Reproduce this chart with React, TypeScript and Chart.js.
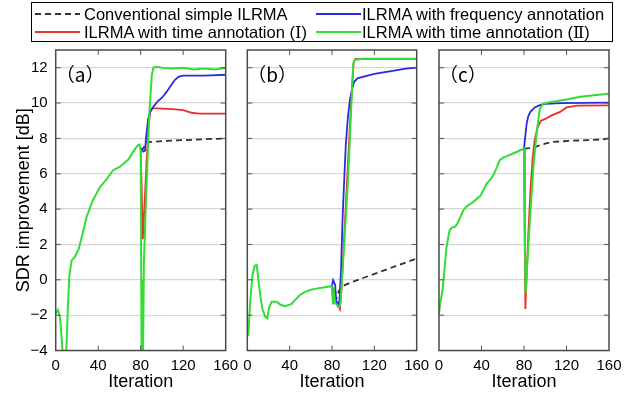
import React, { useEffect, useRef } from 'react';
import { Chart, registerables } from 'chart.js';

Chart.register(...registerables);

type P = [number, number][];

// ---------- data ----------
const ITER_TICKS = [0, 40, 80, 120, 160];
const SDR_TICKS = [-4, -2, 0, 2, 4, 6, 8, 10, 12];
const PANEL_LABELS = ['（a）', '（b）', '（c）'];
const SERIES_NAMES = [
  'Conventional simple ILRMA',
  'ILRMA with time annotation (Ⅰ)',
  'ILRMA with frequency annotation',
  'ILRMA with time annotation (Ⅱ)',
];

// panel (a)
const A_CONV: P = [[80, 7.3], [82, 7.4], [84, 7.6], [86, 7.8], [90, 7.8], [100, 7.85], [120, 7.9], [140, 7.95], [160, 8.0]];
const A_TIME1: P = [[80, 7.3], [81, 5], [82, 2.3], [83, 3.5], [85, 6], [87, 8.5], [89, 9.5], [91, 9.7], [95, 9.7], [110, 9.65], [120, 9.6], [128, 9.45], [135, 9.4], [160, 9.4]];
const A_FREQ: P = [[80, 7.3], [81, 7.4], [82.5, 7.25], [84, 7.3], [85, 8.0], [87, 9.1], [89, 9.5], [92, 9.8], [96, 10.1], [100, 10.3], [104, 10.6], [108, 10.95], [112, 11.3], [116, 11.5], [120, 11.55], [140, 11.55], [160, 11.6]];
const A_TIME2: P = [[0, -1.9], [2, -1.7], [4, -2.1], [5.5, -3.2], [7, -4.6], [9, -4.6], [10, -4], [11.5, -1.5], [12.8, 0.2], [15, 1.1], [18, 1.3], [21.4, 1.7], [24.5, 2.4], [29, 3.55], [35, 4.5], [41.7, 5.25], [48, 5.7], [54, 6.2], [60.5, 6.4], [68.4, 6.8], [73, 7.25], [77, 7.6], [78.7, 7.65], [80, 7.3], [80.5, 0], [81, -6], [82, -6], [83, 1.0], [85, 4.5], [88, 9.3], [90.5, 11.6], [92, 12.0], [95, 12.05], [100, 12.0], [110, 11.95], [120, 12.0], [130, 11.9], [140, 11.95], [150, 11.9], [160, 12.0]];

// panel (b)
const B_CONV: P = [[80, -0.36], [82, -0.8], [84, -1.1], [86, -0.7], [88, -0.45], [92, -0.3], [100, -0.1], [120, 0.33], [140, 0.77], [160, 1.2]];
const B_TIME1: P = [[80, -0.36], [82, -1.0], [85, -1.3], [87.5, -1.65], [89, -0.5], [92, 3], [95, 6.5], [98, 10], [100.5, 12.3], [102, 12.5], [160, 12.5]];
const B_FREQ: P = [[80, -0.36], [81, -0.02], [82, -0.15], [83, -0.3], [84, -1.2], [85.5, -1.45], [87, -1.2], [88.5, 0.5], [90, 3.5], [91.5, 5.6], [93, 7.6], [95, 9.2], [97, 10.2], [99, 10.8], [101, 11.2], [104, 11.4], [110, 11.5], [120, 11.65], [130, 11.75], [140, 11.85], [150, 11.95], [160, 12.0]];
const B_TIME2: P = [[0, -3.2], [1, -3.1], [3, -1], [5, 0.3], [7, 0.8], [8.9, 0.83], [10.5, 0], [12.5, -1], [14.5, -1.7], [17, -2.1], [18.9, -2.18], [20.5, -1.6], [23, -1.24], [27.8, -1.24], [31, -1.4], [35.6, -1.5], [41.9, -1.36], [45, -1.15], [49.8, -0.86], [54, -0.7], [59.2, -0.58], [65, -0.5], [71.8, -0.43], [79.7, -0.36], [81, -1.4], [82, -0.8], [83, -1.3], [85, -1.45], [87, -1.5], [88, -1.3], [91, 1.5], [95, 5.5], [98, 9.5], [100, 12.2], [101.5, 12.45], [110, 12.5], [160, 12.5]];

// panel (c)
const C_CONV: P = [[80, 7.42], [85, 7.45], [92, 7.55], [100, 7.7], [107, 7.8], [115, 7.83], [123, 7.86], [140, 7.9], [155, 7.95], [160, 8.0]];
const C_TIME1: P = [[80, 7.42], [80.7, 2], [81.3, -1.65], [82, -0.5], [84, 2.5], [86, 5.0], [88, 6.8], [90, 7.9], [93, 8.65], [96, 9.0], [100, 9.1], [106, 9.3], [114, 9.5], [120, 9.75], [130, 9.85], [160, 9.87]];
const C_FREQ: P = [[80, 7.42], [81, 8.0], [82.5, 8.84], [84, 9.25], [86, 9.5], [90, 9.75], [95, 9.88], [100, 9.95], [115, 10.0], [160, 10.02]];
const C_TIME2: P = [[0, -1.9], [1.5, -1.2], [3.4, -0.58], [5, 0.5], [7, 1.8], [8.8, 2.43], [10, 2.8], [12, 2.95], [15, 3.0], [17, 3.15], [20, 3.55], [23, 3.95], [27, 4.2], [31, 4.35], [35, 4.55], [39, 4.75], [42, 5.1], [45, 5.45], [48, 5.65], [51, 5.9], [54, 6.3], [57, 6.75], [60, 6.9], [64, 7.0], [68, 7.1], [73, 7.23], [80, 7.42], [80.7, 3], [81.5, -0.77], [83, 0.8], [86, 3.8], [89, 6.5], [92, 8.4], [95, 9.7], [98, 9.95], [104, 10.05], [110, 10.1], [120, 10.2], [133, 10.35], [148, 10.45], [160, 10.53]];

const PANEL_DATA: P[][] = [
  [A_CONV, A_TIME1, A_FREQ, A_TIME2],
  [B_CONV, B_TIME1, B_FREQ, B_TIME2],
  [C_CONV, C_TIME1, C_FREQ, C_TIME2],
];

// ---------- styles ----------
const COLORS = ['#333333', '#e8302c', '#2a2ae0', '#33dd33'];
const DASHES = [[6, 4], [], [], []];
const ORDERS = [3, 2, 1, 0];
const FONT = '"Liberation Sans", "DejaVu Serif", "Noto Sans CJK JP", sans-serif';
const W = 640;
const H = 396;
const PANEL_BOUNDS = [
  { left: 55.7, right: 225.7 },
  { left: 247.3, right: 416.7 },
  { left: 439, right: 609 },
];
const PLOT_TOP = 50;
const PLOT_BOTTOM = 350.5;

function framePlugin(label: string) {
  return {
    id: 'frame',
    afterDatasetsDraw(chart: any) {
      const { ctx, chartArea, scales } = chart;
      const { left, right, top, bottom } = chartArea;
      ctx.save();
      ctx.strokeStyle = '#555';
      ctx.lineWidth = 1;
      const seg = (x1: number, y1: number, x2: number, y2: number) => {
        ctx.beginPath();
        ctx.moveTo(x1, y1);
        ctx.lineTo(x2, y2);
        ctx.stroke();
      };
      ITER_TICKS.slice(1, -1).forEach((v) => {
        const x = scales.x.getPixelForValue(v);
        seg(x, top, x, top + 5);
        seg(x, bottom, x, bottom - 5);
      });
      SDR_TICKS.forEach((v) => {
        const y = scales.y.getPixelForValue(v);
        seg(left, y, left + 5, y);
        seg(right, y, right - 5, y);
      });
      ctx.lineWidth = 1.5;
      ctx.strokeStyle = '#4a4a4a';
      ctx.strokeRect(left, top, right - left, bottom - top);
      ctx.fillStyle = '#000';
      ctx.font = '19px "Noto Sans CJK JP", sans-serif';
      ctx.textBaseline = 'middle';
      ctx.textAlign = 'left';
      ctx.fillText(label, left + 0, top + 25);
      ctx.restore();
    },
  };
}

function Panel({ index }: { index: number }) {
  const ref = useRef<HTMLCanvasElement | null>(null);
  useEffect(() => {
    if (!ref.current) return;
    const series = PANEL_DATA[index];
    const b = PANEL_BOUNDS[index];
    const isFirst = index === 0;
    const chart = new Chart(ref.current, {
      type: 'line',
      data: {
        datasets: series.map((pts, i) => ({
          label: SERIES_NAMES[i],
          data: pts.map(([x, y]) => ({ x, y })),
          borderColor: COLORS[i],
          backgroundColor: COLORS[i],
          borderDash: DASHES[i],
          borderWidth: i === 3 ? 2 : 1.8,
          pointRadius: 0,
          tension: 0,
          fill: false,
          order: ORDERS[i],
        })),
      },
      options: {
        responsive: false,
        animation: false,
        events: [],
        layout: {
          padding: {
            left: isFirst ? 0 : b.left,
            right: W - b.right,
            top: PLOT_TOP,
            bottom: 0,
          },
        },
        plugins: {
          legend: { display: false },
          tooltip: { enabled: false },
        },
        scales: {
          x: {
            type: 'linear',
            min: 0,
            max: 160,
            afterFit: (s: any) => {
              s.height = H - PLOT_BOTTOM;
            },
            ticks: {
              stepSize: 40,
              padding: 6,
              color: '#000',
              font: { family: FONT, size: 15 },
              maxRotation: 0,
            },
            grid: { display: false, drawTicks: false },
            border: { display: false },
            title: {
              display: true,
              text: 'Iteration',
              color: '#000',
              font: { family: FONT, size: 18 },
              padding: { top: 0, bottom: 3 },
            },
          },
          y: {
            type: 'linear',
            min: -4,
            max: 13,
            afterFit: (s: any) => {
              s.width = isFirst ? b.left : 0;
            },
            ticks: {
              display: isFirst,
              stepSize: 2,
              includeBounds: false,
              padding: 8,
              color: '#000',
              font: { family: FONT, size: 15 },
              callback: (v: any) => String(v).replace('-', '\u2212'),
            },
            grid: { color: '#d6d6d6', lineWidth: 1.2, drawTicks: false },
            border: { display: false },
            title: {
              display: isFirst,
              text: 'SDR improvement [dB]',
              color: '#000',
              font: { family: FONT, size: 18 },
              padding: { top: 13, bottom: 0 },
            },
          },
        },
      },
      plugins: [framePlugin(PANEL_LABELS[index])],
    } as any);
    return () => chart.destroy();
  }, [index]);
  return (
    <canvas
      ref={ref}
      width={W}
      height={H}
      style={{ position: 'absolute', left: 0, top: 0, width: W, height: H }}
    />
  );
}

function LegendLine({ color, dash }: { color: string; dash: number[] }) {
  return (
    <svg width={45} height={6} style={{ display: 'block' }}>
      <line
        x1={0}
        y1={3}
        x2={45}
        y2={3}
        stroke={color}
        strokeWidth={2}
        strokeDasharray={dash.length ? dash.join(',') : undefined}
      />
    </svg>
  );
}

const LEGEND_POS = [
  { lx: 35, tx: 84, y: 14 },
  { lx: 35, tx: 84, y: 32 },
  { lx: 316, tx: 362, y: 14 },
  { lx: 316, tx: 362, y: 32 },
];

export default function App() {
  return (
    <div
      style={{
        position: 'fixed',
        left: 0,
        top: 0,
        width: W,
        height: H,
        background: '#fff',
        overflow: 'hidden',
      }}
    >
      {[0, 1, 2].map((i) => (
        <Panel key={i} index={i} />
      ))}
      <div
        style={{
          position: 'absolute',
          left: 31,
          top: 2,
          width: 582,
          height: 40,
          border: '1.5px solid #000',
          boxSizing: 'border-box',
        }}
      />
      {SERIES_NAMES.map((name, i) => (
        <React.Fragment key={name}>
          <div style={{ position: 'absolute', left: LEGEND_POS[i].lx, top: LEGEND_POS[i].y - 3 }}>
            <LegendLine color={COLORS[i]} dash={DASHES[i]} />
          </div>
          <div
            style={{
              position: 'absolute',
              left: LEGEND_POS[i].tx,
              top: LEGEND_POS[i].y - 10,
              height: 20,
              lineHeight: '20px',
              fontFamily: FONT,
              fontSize: 16.5,
              color: '#000',
              whiteSpace: 'nowrap',
            }}
          >
            {name}
          </div>
        </React.Fragment>
      ))}
    </div>
  );
}
